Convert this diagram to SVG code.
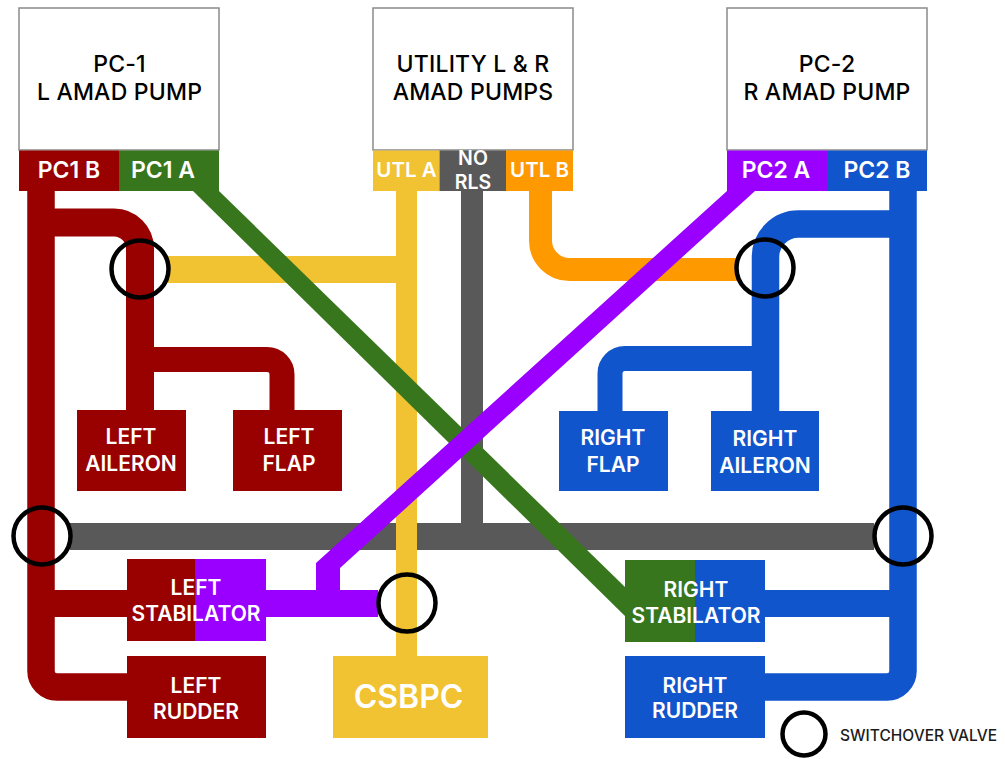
<svg xmlns="http://www.w3.org/2000/svg" width="1005" height="759" viewBox="0 0 1005 759">
<style>
text{font-family:"Inter","Noto Sans",sans-serif;font-weight:600;fill:#fff;text-anchor:middle}
.pt{font-size:23px;fill:#000;font-weight:500;letter-spacing:.2px}
.h{font-size:23px}
.n{font-size:21px}
.s{font-size:20.500px}
.no{font-size:19.500px}
.cs{font-size:32px}
.lg{font-size:15.500px;fill:#1c1c1c;font-weight:500;text-anchor:start}
.r{stroke:#990000}.b{stroke:#1155cc}.y{stroke:#f1c232}.o{stroke:#ff9900}.g{stroke:#595959}
.v{fill:none;stroke:#000;stroke-width:4.500}
.pump{fill:#fff;stroke:#8a8a8a;stroke-width:1.500}
.fr{fill:#990000}.fb{fill:#1155cc}.fy{fill:#f1c232}.fo{fill:#ff9900}.fg{fill:#595959}.fgr{fill:#38761d}.fp{fill:#9900ff}
</style>
<rect width="1005" height="759" fill="#fff"/>
<g id="connectors" fill="none">
<path class="g" stroke-width="22" d="M472 191V536"/>
<path class="g" stroke-width="27" d="M70 536.500H874"/>
<path class="y" stroke-width="21" d="M406.500 191V656"/>
<path class="y" stroke-width="27" d="M168 269.500H406"/>
<path class="o" stroke-width="23" d="M540.500 191V240.500A29 29 0 0 0 569.500 269.500H737"/>
<path class="r" stroke-width="27.500" d="M41 191V671A16 16 0 0 0 57 687H128"/>
<path class="r" stroke-width="27" d="M41 603.500H128"/>
<path class="r" stroke-width="28" d="M41 222.500H114A26 26 0 0 1 140 248.500V410"/>
<path class="r" stroke-width="25" d="M140 359.500H267A15 15 0 0 1 282 374.500V410"/>
<path class="b" stroke-width="27.500" d="M903 191V671A16 16 0 0 1 887 687H764"/>
<path class="b" stroke-width="27" d="M903 603.500H764"/>
<path class="b" stroke-width="27.500" d="M903 224H798.500A33 33 0 0 0 765.500 257V411"/>
<path class="b" stroke-width="25" d="M765 358.500H625A15 15 0 0 0 610 373.500V411"/>
<polygon class="fgr" points="193,191 219,191 626,588 626,617"/>
<polygon class="fp" points="727,191 755,191 340,568 340,590 378,590 378,617 265,617 265,590 316,590 316,563"/>
</g>
<g id="pc1">
<rect class="pump" x="19" y="8" width="200" height="142"/>
<text class="pt" x="119.500" y="72">PC-1</text><text class="pt" x="119.500" y="100">L AMAD PUMP</text>
<rect class="fr" x="19" y="150.500" width="100" height="40.500"/><text class="h" x="69" y="178">PC1 B</text>
<rect class="fgr" x="119" y="150.500" width="100" height="40.500"/><text class="h" x="163" y="178">PC1 A</text>
</g>
<g id="utility">
<rect class="pump" x="373" y="8" width="200" height="142"/>
<text class="pt" x="473" y="72">UTILITY L &amp; R</text><text class="pt" x="473" y="100">AMAD PUMPS</text>
<rect class="fy" x="373" y="150.500" width="66.500" height="40.500"/><text class="s" x="406.500" y="177">UTL A</text>
<rect class="fg" x="439.500" y="150.500" width="66.500" height="40.500"/><text class="no" x="473" y="164.500">NO</text><text class="no" x="473" y="188.500">RLS</text>
<rect class="fo" x="506" y="150.500" width="67" height="40.500"/><text class="s" x="539.500" y="177">UTL B</text>
</g>
<g id="pc2">
<rect class="pump" x="727" y="8" width="200" height="142"/>
<text class="pt" x="827" y="72">PC-2</text><text class="pt" x="827" y="100">R AMAD PUMP</text>
<rect class="fp" x="727" y="150.500" width="100" height="40.500"/><text class="h" x="776" y="178">PC2 A</text>
<rect class="fb" x="827" y="150.500" width="100" height="40.500"/><text class="h" x="877" y="178">PC2 B</text>
</g>
<g id="left-aileron"><rect class="fr" x="77" y="410" width="109" height="81"/><text class="n" x="131" y="444">LEFT</text><text class="n" x="131" y="471">AILERON</text></g>
<g id="left-flap"><rect class="fr" x="233" y="410" width="109" height="81"/><text class="n" x="289" y="444">LEFT</text><text class="n" x="289" y="471">FLAP</text></g>
<g id="right-flap"><rect class="fb" x="559" y="411" width="109" height="80"/><text class="n" x="613" y="445">RIGHT</text><text class="n" x="613" y="472">FLAP</text></g>
<g id="right-aileron"><rect class="fb" x="711" y="411" width="108" height="80"/><text class="n" x="765" y="446">RIGHT</text><text class="n" x="765" y="473">AILERON</text></g>
<g id="left-stabilator"><rect class="fr" x="127" y="559" width="68" height="82"/><rect class="fp" x="195" y="559" width="71" height="82"/><text class="n" x="196" y="595">LEFT</text><text class="n" x="196" y="621">STABILATOR</text></g>
<g id="left-rudder"><rect class="fr" x="127" y="656" width="139" height="82"/><text class="n" x="196" y="693">LEFT</text><text class="n" x="196" y="719">RUDDER</text></g>
<g id="csbpc"><rect class="fy" x="333" y="656" width="155" height="82"/><text class="cs" x="408.500" y="708">CSBPC</text></g>
<g id="right-stabilator"><rect class="fgr" x="625" y="560" width="70" height="82"/><rect class="fb" x="695" y="560" width="70" height="82"/><text class="n" x="696" y="597">RIGHT</text><text class="n" x="696" y="623">STABILATOR</text></g>
<g id="right-rudder"><rect class="fb" x="625" y="656" width="140" height="82"/><text class="n" x="695" y="693">RIGHT</text><text class="n" x="695" y="718">RUDDER</text></g>
<g id="valves">
<circle class="v" cx="140" cy="269" r="28.500"/>
<circle class="v" cx="765" cy="268" r="28.500"/>
<circle class="v" cx="42" cy="536" r="28.500"/>
<circle class="v" cx="903" cy="536" r="28.500"/>
<circle class="v" cx="407" cy="603" r="28.500"/>
</g>
<g id="legend"><circle class="v" cx="804" cy="734" r="21.500"/><text class="lg" x="840" y="740.500">SWITCHOVER VALVE</text></g>
</svg>
